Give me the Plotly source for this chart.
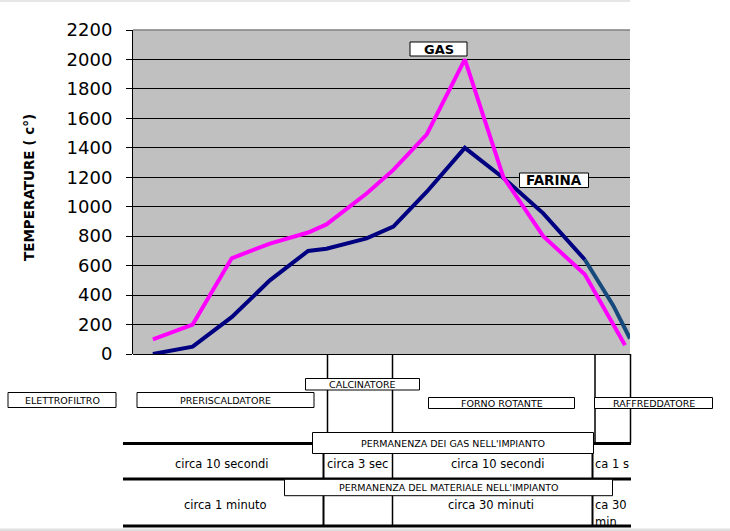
import plotly.graph_objects as go

# ---- data ----
gas_x = [0.52, 1.56, 2.58, 3.58, 4.58, 5.06, 6.11, 6.81, 7.68, 8.68, 9.69, 10.73, 11.82, 12.87]
gas_y = [100, 200, 650, 750, 825, 880, 1090, 1250, 1490, 2000, 1200, 800, 540, 60]

farina_x = [0.52, 1.56, 2.58, 3.58, 4.58, 5.06, 6.11, 6.81, 7.68, 8.68, 9.69, 10.73, 11.82]
farina_y = [0, 50, 250, 500, 700, 715, 785, 865, 1100, 1400, 1195, 955, 640]

farina_end_x = [11.82, 12.56, 13.0]
farina_end_y = [640, 330, 105]

y_ticks = [0, 200, 400, 600, 800, 1000, 1200, 1400, 1600, 1800, 2000, 2200]

stages = ["ELETTROFILTRO", "PRERISCALDATORE", "CALCINATORE", "FORNO ROTANTE", "RAFFREDDATORE"]
gas_times = ["circa 10 secondi", "circa 3 sec", "circa 10 secondi", "ca 1 s"]
mat_times = ["circa 1 minuto", "circa 30 minuti", "ca 30", "min"]
row_titles = ["PERMANENZA DEI GAS NELL'IMPIANTO", "PERMANENZA DEL MATERIALE NELL'IMPIANTO"]

# ---- layout geometry (pixels) ----
W, H = 730, 531
L, R, T, B = 133, 630, 30, 354


def px(x):
    return (x - L) / (R - L)


def py(y):
    return (B - y) / (B - T)


fig = go.Figure()
fig.add_trace(go.Scatter(x=farina_x, y=farina_y, mode="lines",
                         line=dict(color="#000080", width=4), hoverinfo="skip"))
fig.add_trace(go.Scatter(x=farina_end_x, y=farina_end_y, mode="lines",
                         line=dict(color="#174a7c", width=4), hoverinfo="skip"))
fig.add_trace(go.Scatter(x=gas_x, y=gas_y, mode="lines",
                         line=dict(color="#FF00FF", width=4), hoverinfo="skip"))

shapes = []
annotations = []

# page strips
shapes.append(dict(type="rect", xref="paper", yref="paper", x0=px(0), x1=px(630), y0=py(0), y1=py(2),
                   fillcolor="#e6e6e6", line=dict(width=0), layer="below"))
shapes.append(dict(type="rect", xref="paper", yref="paper", x0=px(0), x1=px(730), y0=py(528.5), y1=py(531),
                   fillcolor="#e0e0e0", line=dict(width=0), layer="below"))
# top border of plot
shapes.append(dict(type="line", xref="paper", yref="paper", x0=0, x1=1, y0=1, y1=1,
                   line=dict(color="#808080", width=1.5)))


def vline(x, y0, y1, w=1.5):
    shapes.append(dict(type="line", xref="paper", yref="paper", x0=px(x), x1=px(x), y0=py(y0), y1=py(y1),
                       line=dict(color="black", width=w)))


def hline(y, x0, x1, w=3):
    shapes.append(dict(type="line", xref="paper", yref="paper", x0=px(x0), x1=px(x1), y0=py(y), y1=py(y),
                       line=dict(color="black", width=w)))


def box(x0, y0, x1, y1):
    shapes.append(dict(type="rect", xref="paper", yref="paper", x0=px(x0), x1=px(x1), y0=py(y0), y1=py(y1),
                       fillcolor="white", line=dict(color="black", width=1)))


def text(t, x, y, size=9.5, bold=False, anchor="center"):
    annotations.append(dict(text=("<b>%s</b>" % t) if bold else t, xref="paper", yref="paper",
                            x=px(x), y=py(y), xanchor=anchor, yanchor="middle", showarrow=False,
                            font=dict(family="DejaVu Sans, Verdana", size=size, color="black")))


# vertical separators
vline(327.5, 354, 432)
vline(392.5, 354, 527)
vline(595, 354, 443)
vline(630.5, 354, 443)
vline(323.5, 453, 527, 2)
vline(592.5, 453, 527, 2)

# thick horizontal rules
hline(443.5, 123, 631)
hline(479, 123, 631)
hline(526, 123, 631)

# stage boxes
box(8, 392.5, 116, 407.5)
box(137, 392.5, 314, 407.5)
box(305.5, 378.5, 419.5, 390)
box(428.5, 397.5, 574.5, 408.5)
box(594.5, 397.5, 712.5, 408.5)
# row title boxes
box(312.5, 432.5, 593.5, 453.5)
box(284.5, 479.3, 612.5, 495.7)

text(stages[0], 62, 400)
text(stages[1], 225.5, 400)
text(stages[2], 362.5, 384.5)
text(stages[3], 501.5, 403)
text(stages[4], 653.5, 403)
text(row_titles[0], 453, 443)
text(row_titles[1], 448.5, 487.5)

text(gas_times[0], 222, 463.5, 11.5)
text(gas_times[1], 325, 463.5, 11.5, anchor="left")
text(gas_times[2], 498, 463.5, 11.5)
text(gas_times[3], 592.5, 463.5, 11.5, anchor="left")
text(mat_times[0], 225, 505, 11.5)
text(mat_times[1], 490.5, 505, 11.5)
text(mat_times[2], 592.5, 505, 11.5, anchor="left")
text(mat_times[3], 592.5, 521.5, 11.5, anchor="left")

# series labels
box(410, 42, 467, 56)
text("GAS", 438.5, 49, 13, bold=True)
box(519.5, 173, 588.5, 187.5)
text("FARINA", 554, 180.3, 13.5, bold=True)

# y title
annotations.append(dict(text="<b>TEMPERATURE ( c°)</b>", xref="paper", yref="paper",
                        x=px(29), y=py(188), xanchor="center", yanchor="middle", textangle=-90,
                        showarrow=False, font=dict(family="DejaVu Sans, Verdana", size=13.5, color="black")))

fig.update_layout(
    width=W, height=H,
    margin=dict(l=L, r=W - R, t=T, b=H - B, pad=0),
    paper_bgcolor="white",
    plot_bgcolor="#C0C0C0",
    showlegend=False,
    shapes=shapes,
    annotations=annotations,
    xaxis=dict(range=[0, 13], visible=False, fixedrange=True),
    yaxis=dict(range=[0, 2200], tickvals=y_ticks, ticktext=[str(v) for v in y_ticks],
               showgrid=True, gridcolor="black", gridwidth=1,
               zeroline=True, zerolinecolor="black", zerolinewidth=1,
               showline=True, linecolor="black", linewidth=1,
               ticks="outside", ticklen=6, tickcolor="black", ticklabelstandoff=10,
               tickfont=dict(family="DejaVu Sans, Verdana", size=18, color="black"),
               fixedrange=True),
)

fig.write_html("out.html")
